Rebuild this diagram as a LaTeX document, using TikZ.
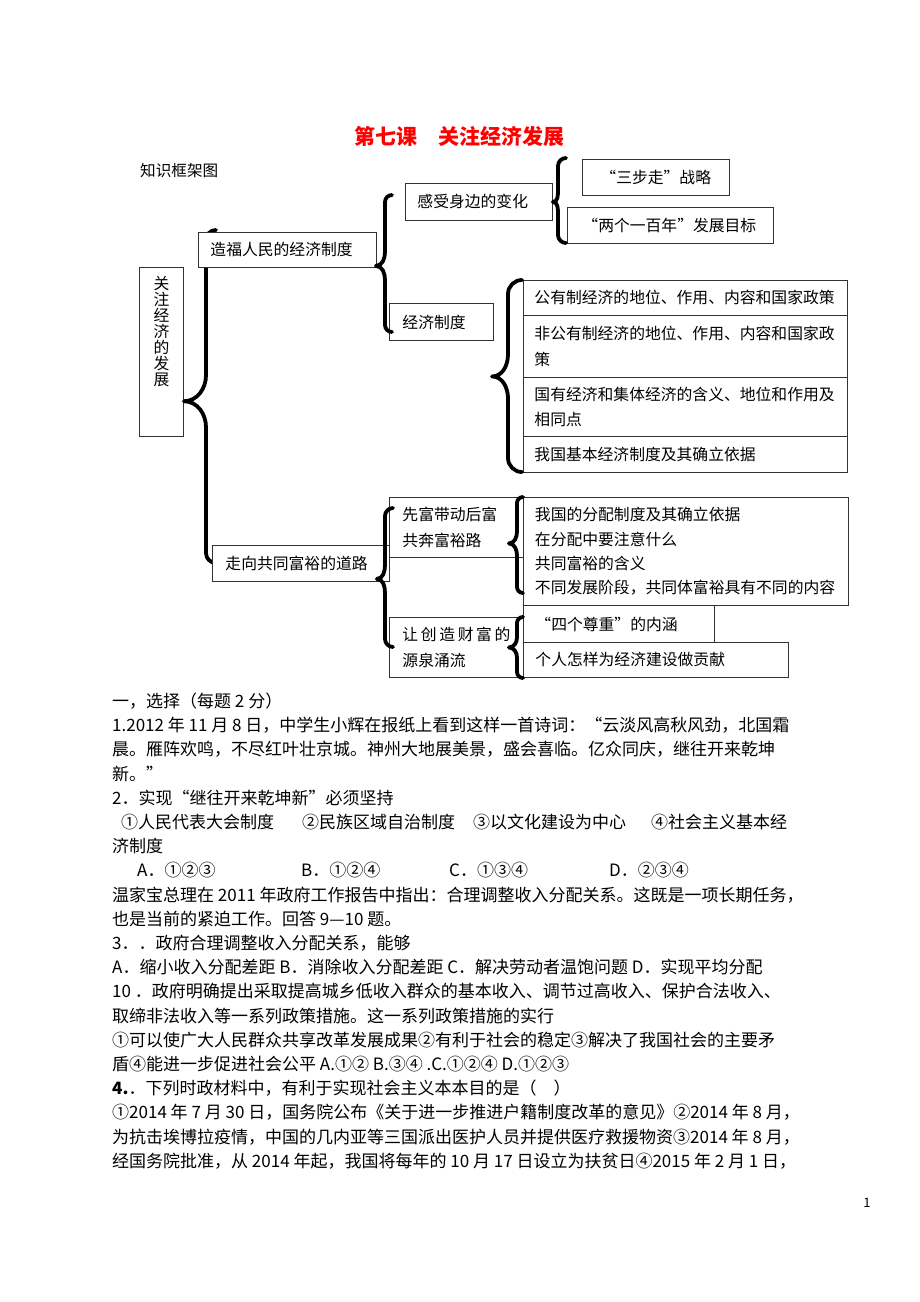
\documentclass[tikz,border=0pt]{standalone}
\usepackage{fontspec}
\setmainfont{Noto Sans CJK SC}
\usepackage{tikz}
\usetikzlibrary{calc}
\definecolor{titlered}{rgb}{1, 0, 0}
\definecolor{framegray}{rgb}{0.2, 0.2, 0.2}

\tikzset{
  box/.style={draw=framegray, line width=0.9pt, fill=white, anchor=north west,
    inner xsep=12pt, inner ysep=0pt, align=left,
    font=\fontsize{15.8}{25.5}\selectfont},
  bracestroke/.style={line width=3.8pt, line cap=round, line join=round},
  qline/.style={anchor=base west, inner sep=0pt, font=\fontsize{17}{17}\selectfont},
}

% word-style curly brace: tip, stem x, top y, bottom y, curl, half height of the tip
\newcommand{\wbrace}[6]{%
  \draw[bracestroke] let \p1 = (#1) in
    ({#2+#5},#3) to[out=180,in=90] (#2,{#3-#5}) -- (#2,{\y1+#6})
    to[out=-90,in=0] (\p1) to[out=0,in=90] (#2,{\y1-#6})
    -- (#2,{#4+#5}) to[out=-90,in=180] ({#2+#5},#4);}

\begin{document}
\begin{tikzpicture}[x=1pt, y=1pt]
  \useasboundingbox (0,0) rectangle (920,-1302);
  \node[font=\fontsize{21}{21}\selectfont\bfseries, text=titlered] (title) at (459.5,-137) {第七课　关注经济发展};
  \node[anchor=west, inner sep=0pt, font=\fontsize{15.6}{16}\selectfont] (kuangjia) at (140,-171) {知识框架图};

  % root box, big brace sits behind the first level boxes
  \node[box, inner sep=0pt, minimum width=44pt, minimum height=169pt,
    label={[anchor=north, align=center, inner sep=0pt, yshift=-9pt, font=\fontsize{15.8}{16}\selectfont]north:{关\\注\\经\\济\\的\\发\\展}}] (root) at (139,-267) {};
  \wbrace{$(root.south east)!0.21!(root.north east)$}{206}{-230}{-563}{10}{26}

  % first level
  \node[box, text width=154pt, minimum height=35pt] (zaofu) at (198,-232) {造福人民的经济制度};
  \node[box, inner xsep=13pt, text width=151pt, minimum height=36pt] (zouxiang) at (212,-545) {走向共同富裕的道路};

  % second level
  \node[box, text width=123pt, minimum height=37pt] (ganshou) at (405,-183) {感受身边的变化};
  \node[box, inner xsep=13pt, text width=78pt, minimum height=37pt] (jingji) at (389,-303) {经济制度};
  \node[box, inner xsep=13pt, text width=108pt, minimum height=60pt] (xianfu) at (389,-497) {先富带动后富\\共奔富裕路};
  \node[box, inner xsep=13pt, text width=108pt, minimum height=60pt] (chuangzao) at (389,-617) {\makebox[108pt][s]{让\hfill 创\hfill 造\hfill 财\hfill 富\hfill 的}\\源泉涌流};

  % third level
  \node[box, inner xsep=18pt, text width=111pt, minimum height=36pt] (sanbu) at (582,-159) {“三步走”战略};
  \node[box, inner xsep=15pt, text width=176pt, minimum height=36pt] (liangge) at (567,-207) {“两个一百年”发展目标};
  \node[box, inner xsep=11pt, text width=302pt, minimum height=35pt] (jjrow1) at (523,-280) {公有制经济的地位、作用、内容和国家政策};
  \node[box, inner xsep=11pt, text width=302pt, minimum height=62pt] (jjrow2) at (523,-315) {非公有制经济的地位、作用、内容和国家政\\策};
  \node[box, inner xsep=11pt, text width=302pt, minimum height=59pt] (jjrow3) at (523,-377) {国有经济和集体经济的含义、地位和作用及\\相同点};
  \node[box, inner xsep=11pt, text width=302pt, minimum height=36pt] (jjrow4) at (523,-436) {我国基本经济制度及其确立依据};
  \node[box, inner xsep=11.5pt, text width=302pt, minimum height=108pt, font=\fontsize{15.8}{24.3}\selectfont] (fenpei) at (523,-497)
    {我国的分配制度及其确立依据\\在分配中要注意什么\\共同富裕的含义\\不同发展阶段，共同体富裕具有不同的内容};
  \node[box, text width=167pt, minimum height=37pt] (zunzhong) at (523,-605) {“四个尊重”的内涵};
  \node[box, text width=241pt, minimum height=35pt] (gexing) at (523,-642) {个人怎样为经济建设做贡献};

  % braces in front of the boxes
  \wbrace{$(zaofu.south east)+(-1,2)$}{385}{-195}{-332}{7}{14}
  \wbrace{ganshou.east}{558}{-158}{-243}{8}{12}
  \wbrace{$(jjrow1.north west)!0.5!(jjrow4.south west)+(-31,0)$}{508}{-280}{-472}{14}{22}
  \wbrace{$(zouxiang.south east)+(-13,3)$}{385}{-508}{-647}{8}{14}
  \wbrace{$(xianfu.east)+(-15,-16)$}{517}{-497}{-593}{6}{12}
  \wbrace{$(chuangzao.east)+(-15,0)$}{517}{-617}{-678}{6}{10}

  % questions
  \foreach \qtext [count=\i from 0] in {
    {一，选择（每题 2 分）},
    {1.2012 年 11 月 8 日，中学生小辉在报纸上看到这样一首诗词：“云淡风高秋风劲，北国霜},
    {晨。雁阵欢鸣，不尽红叶壮京城。神州大地展美景，盛会喜临。亿众同庆，继往开来乾坤},
    {新。”},
    {2．实现“继往开来乾坤新”必须坚持},
    {\hspace*{9pt}\makebox[181pt][l]{①人民代表大会制度}\makebox[171pt][l]{②民族区域自治制度}\makebox[178pt][l]{③以文化建设为中心}④社会主义基本经},
    {济制度},
    {\hspace*{25pt}\makebox[164pt][l]{A．①②③}\makebox[148pt][l]{B．①②④}\makebox[160pt][l]{C．①③④}D．②③④},
    {温家宝总理在 2011 年政府工作报告中指出：合理调整收入分配关系。这既是一项长期任务，},
    {也是当前的紧迫工作。回答 9—10 题。},
    {3．．政府合理调整收入分配关系，能够},
    {A．缩小收入分配差距 B．消除收入分配差距 C．解决劳动者温饱问题 D．实现平均分配},
    {10 ．政府明确提出采取提高城乡低收入群众的基本收入、调节过高收入、保护合法收入、},
    {取缔非法收入等一系列政策措施。这一系列政策措施的实行},
    {①可以使广大人民群众共享改革发展成果②有利于社会的稳定③解决了我国社会的主要矛},
    {盾④能进一步促进社会公平 A.①② B.③④ .C.①②④ D.①②③},
    {\textbf{4.}．下列时政材料中，有利于实现社会主义本本目的是（　）},
    {①2014 年 7 月 30 日，国务院公布《关于进一步推进户籍制度改革的意见》②2014 年 8 月，},
    {为抗击埃博拉疫情，中国的几内亚等三国派出医护人员并提供医疗救援物资③2014 年 8 月，},
    {经国务院批准，从 2014 年起，我国将每年的 10 月 17 日设立为扶贫日④2015 年 2 月 1 日，}
  }
    \node[qline] (q\i) at (112,{-707.5-24.2*\i}) {\qtext};

  \node[font=\fontsize{13}{13}\selectfont] (pagenum) at (867,-1203) {1};
\end{tikzpicture}
\end{document}
